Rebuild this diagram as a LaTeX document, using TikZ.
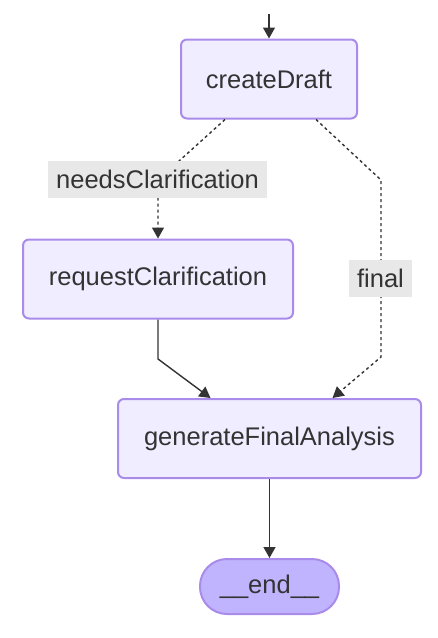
\documentclass[tikz,border=0pt]{standalone}
\usepackage{fontspec}
\setmainfont{Liberation Sans}
\usetikzlibrary{arrows.meta}
\definecolor{boxfill}{HTML}{EFEDFF}
\definecolor{boxline}{HTML}{A98BEA}
\definecolor{endfill}{HTML}{BFB4FD}
\definecolor{lblfill}{HTML}{E8E8E8}
\definecolor{ink}{HTML}{333333}
\begin{document}
\begin{tikzpicture}[x=1pt,y=-1pt,
  font=\fontsize{25.5}{30}\selectfont, text=ink,
  stepbox/.style={draw=boxline,line width=2pt,fill=boxfill,rounded corners=6pt,minimum height=79pt},
  endbox/.style={draw=boxline,line width=2pt,fill=endfill,rounded corners=27pt,minimum width=139pt,minimum height=55pt},
  edgelbl/.style={fill=lblfill,inner xsep=8pt,inner ysep=0pt,minimum height=37pt},
  flow/.style={draw=ink,line width=1.4pt,-{Triangle[width=12pt,length=11pt]}},
  cond/.style={flow,dash pattern=on 3pt off 3pt}]
\useasboundingbox (0,0) rectangle (438,638);
\node[stepbox,minimum width=176pt] (cd) at (269,79) {createDraft};
\node[stepbox,minimum width=270pt] (rc) at (158,279) {requestClarification};
\node[stepbox,minimum width=303pt] (gf) at (269.5,438.5) {generateFinalAnalysis};
\node[endbox] (fin) at (269.5,586.5) {\_\_end\_\_};
\coordinate (start) at (269,14);
\draw[flow] (start) -- (cd.north);
\draw[cond] ([xshift=-44pt]cd.south) -- (158,180) -- (rc.north);
\draw[cond] ([xshift=47pt]cd.south) -- (381,180) -- (381,357) -- ([xshift=63pt]gf.north);
\draw[flow] (rc.south) -- (158,359) -- ([xshift=-59pt]gf.north);
\draw[flow] (gf.south) -- (fin.north);
\node[edgelbl] (needs) at (157.5,179.5) {needsClarification};
\node[edgelbl] (final) at (380.5,278) {final};
\end{tikzpicture}
\end{document}
